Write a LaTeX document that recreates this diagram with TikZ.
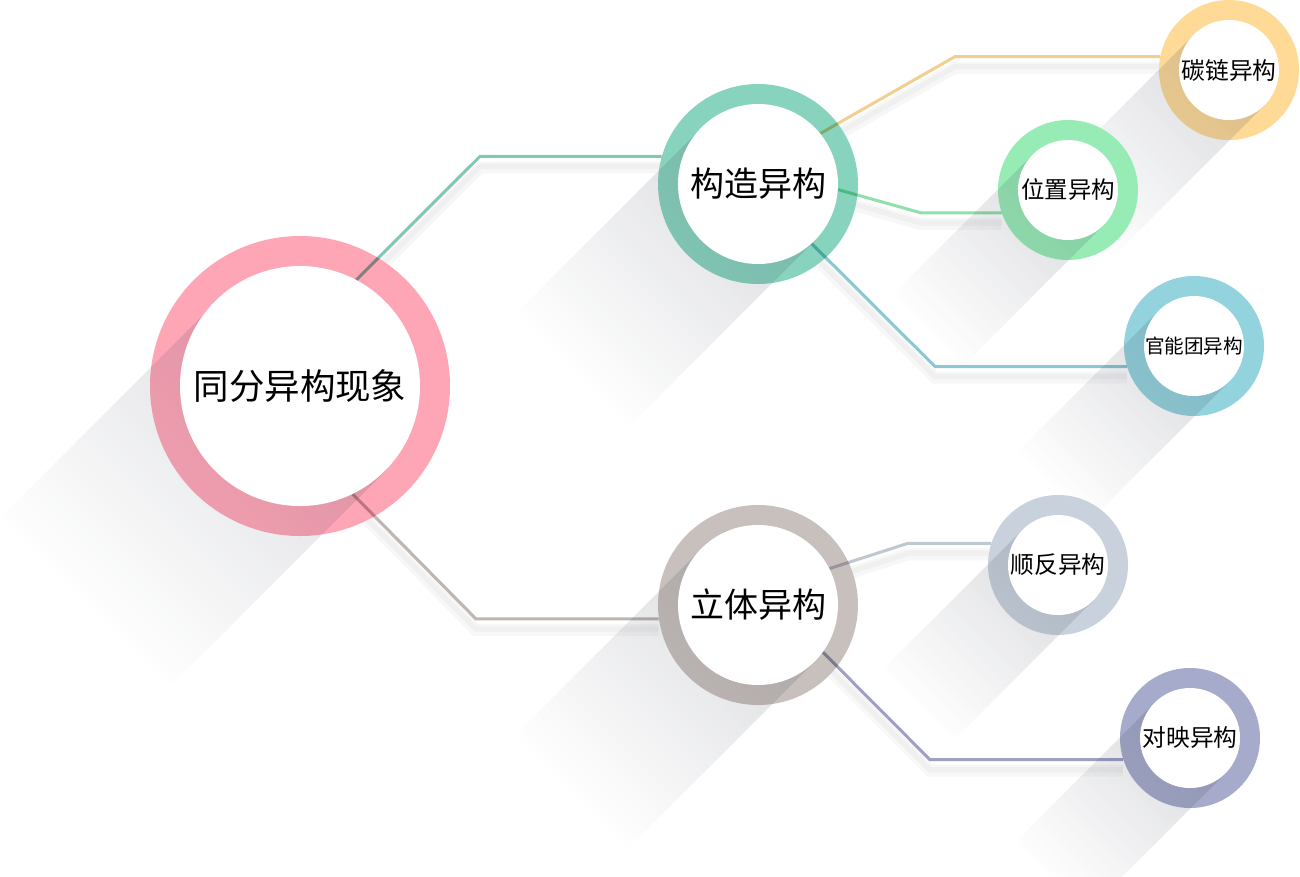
\documentclass[tikz,border=0pt]{standalone}
\usepackage{fontspec}
\newfontfamily\cjk{Noto Sans CJK SC}
\usetikzlibrary{calc,fadings}
\pgfdeclarelayer{back}
\pgfdeclarelayer{rings}
\pgfdeclarelayer{links}
\pgfsetlayers{back,rings,links,main}

\definecolor{pinkring}{HTML}{FEA5B6}
\definecolor{tealring}{HTML}{87D3BE}
\definecolor{grayring}{HTML}{C8C0BC}
\definecolor{orangering}{HTML}{FFDA96}
\definecolor{greenring}{HTML}{97ECB5}
\definecolor{bluering}{HTML}{92D3DD}
\definecolor{slatering}{HTML}{C9D2DC}
\definecolor{purplering}{HTML}{A6AACB}
\definecolor{shadowtint}{HTML}{454A5C}

% long shadow of a hub: node, half width, length (px)
\newcommand{\longshadow}[3]{%
  \fill[shadowtint, fill opacity=0.17, path fading=north,
    fading transform={rotate=135, yscale=0.8}]
    ($(#1)+(-#2*0.7071,-#2*0.7071)$) -- ($(#1)+(#2*0.7071,#2*0.7071)$)
    -- ++(-#3*0.7071,#3*0.7071) -- ++(-#2*1.4142,-#2*1.4142) -- cycle;}

\def\linklist{root.62/k1/gouzao-ring.164/tealring, root.-64/k2/liti-ring.188/grayring,
  gouzao.39/k3/tanlian-ring.169/orangering, gouzao.-4/k4/weizhi-ring.199/greenring,
  gouzao.-48/k5/guanneng-ring.197/bluering, liti.27/k6/shunfan-ring.162/slatering,
  liti.-36/k7/duiying-ring.198/purplering}

\begin{document}
\begin{tikzpicture}[x=0.75pt, y=-0.75pt,
  hub/.style={circle, fill=white, inner sep=0pt, minimum size=#1*1.5pt, text=black},
  halo/.style={circle, inner sep=0pt, minimum size=#1*1.5pt},
  link/.style={line width=2.25pt, blend mode=multiply},
  linkshade/.style={line width=#1, shadowtint, opacity=0.04}]
\useasboundingbox (0,0) rectangle (1300,876);

\node[hub=120, font=\cjk\fontsize{26.6}{30}\selectfont] (root) at (300,386) {同分异构现象};
\node[hub=80, font=\cjk\fontsize{25.5}{30}\selectfont] (gouzao) at (758,184) {构造异构};
\node[hub=80, font=\cjk\fontsize{25.5}{30}\selectfont] (liti) at (758,605) {立体异构};
\node[hub=50, font=\cjk\fontsize{17.8}{20}\selectfont] (tanlian) at (1229,70) {碳链异构};
\node[hub=50, font=\cjk\fontsize{17.6}{20}\selectfont] (weizhi) at (1068,190) {位置异构};
\node[hub=50, font=\cjk\fontsize{14.7}{18}\selectfont] (guanneng) at (1194,346) {官能团异构};
\node[hub=50, font=\cjk\fontsize{17.8}{20}\selectfont] (shunfan) at (1058,565) {顺反异构};
\node[hub=50, font=\cjk\fontsize{17.8}{20}\selectfont] (duiying) at (1190,738) {对映异构};

\begin{pgfonlayer}{rings}
\foreach \n/\R/\r/\L/\c in {root/150/120/305/pinkring, gouzao/100/80/280/tealring,
    tanlian/70/50/240/orangering, weizhi/70/50/220/greenring, guanneng/70/50/220/bluering,
    liti/100/80/280/grayring, shunfan/70/50/220/slatering, duiying/70/50/220/purplering}{
  \node[halo=\R, fill=\c] (\n-ring) at (\n) {};
  \longshadow{\n}{\r}{\L}
}
\end{pgfonlayer}

\coordinate (k1) at (480,0 |- gouzao-ring.164);
\coordinate (k2) at (476,0 |- liti-ring.188);
\coordinate (k3) at (955,0 |- tanlian-ring.169);
\coordinate (k4) at (921,0 |- weizhi-ring.199);
\coordinate (k5) at (935,0 |- guanneng-ring.197);
\coordinate (k6) at (908,0 |- shunfan-ring.162);
\coordinate (k7) at (930,0 |- duiying-ring.198);

\begin{pgfonlayer}{back}
\fill[white] (0,0) rectangle (1300,876);
\foreach \a/\k/\b/\c in \linklist{
  \draw[linkshade=9pt] ($(\a)+(0,11)$) -- ($(\k)+(0,11)$) -- ($(\b)+(0,11)$);
  \draw[linkshade=4pt] ($(\a)+(0,10)$) -- ($(\k)+(0,10)$) -- ($(\b)+(0,10)$);
}
\end{pgfonlayer}

\begin{pgfonlayer}{links}
\foreach \a/\k/\b/\c in \linklist
  \draw[link, \c!95!black] (\a) -- (\k) -- (\b);
\end{pgfonlayer}
\end{tikzpicture}
\end{document}
